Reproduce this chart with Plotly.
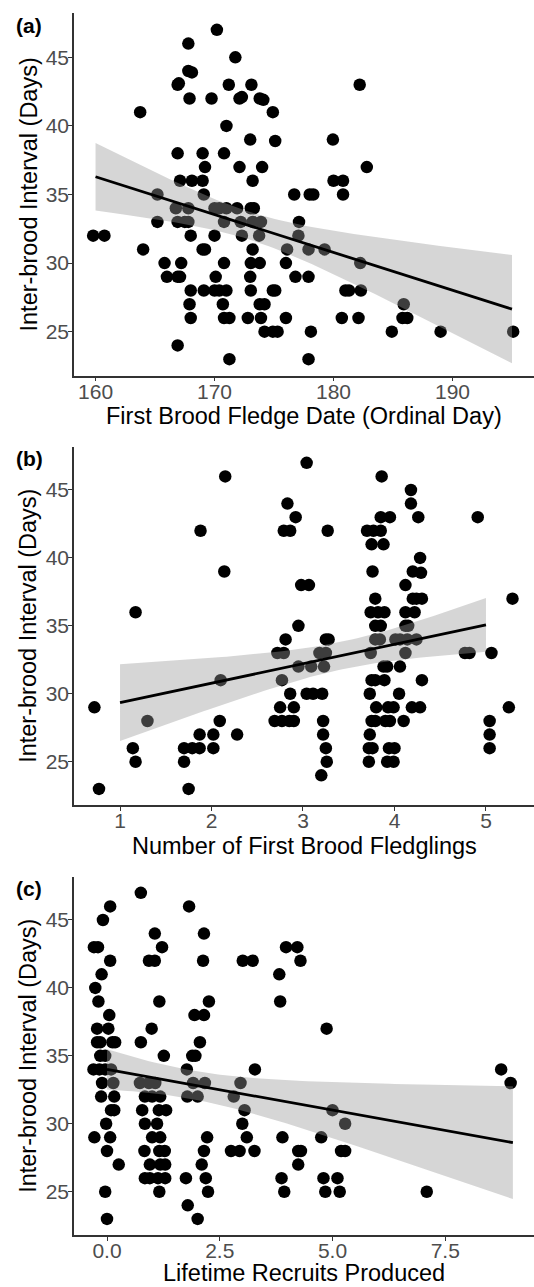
import numpy as np
import plotly.graph_objects as go

# ---------------- data ----------------
a_day = [170.2, 167.8, 171.75, 167.8, 168.1, 166.9, 167.0, 171.2, 173.1, 167.9,
         169.75, 172.1, 172.3, 173.8, 174.1, 163.75, 174.9, 171.0, 173.0, 175.1,
         166.9, 169.0, 170.8, 169.2, 172.1, 174.0, 167.1, 168.1, 169.0, 173.2,
         169.1, 165.2, 176.7, 166.75, 167.8, 170.0, 170.4, 171.0, 171.9, 173.05,
         173.3, 165.2, 166.9, 167.5, 167.8, 170.8, 172.2, 173.2, 173.9, 177.1,
         159.8, 160.75, 168.0, 170.0, 172.3, 173.75, 177.05, 164.0, 169.0, 169.2,
         173.2, 176.1, 165.8, 167.2, 170.8, 173.05, 173.8, 176.0, 176.8, 166.0,
         166.9, 167.1, 170.1, 173.0, 168.0, 169.1, 170.0, 170.4, 171.0, 173.05,
         174.9, 175.1, 167.9, 170.7, 173.8, 174.2, 168.0, 170.8, 171.25, 172.8,
         173.9, 176.0, 174.2, 174.9, 175.3, 166.9, 171.25,
         182.2, 179.95, 182.8, 180.0, 180.8, 180.8, 178.0, 178.3, 177.9, 179.25,
         182.25, 177.9, 181.0, 181.3, 182.3, 180.7, 182.1, 185.9, 185.8, 186.2,
         178.1, 184.9, 189.0, 195.1, 177.9]
a_interval = [47, 46, 45, 44, 43.9, 43, 43.1, 43, 43, 42,
              42, 42, 42.1, 42, 41.9, 41, 41, 40, 39, 38.9,
              38, 38, 38, 37, 37, 37, 36, 36, 36, 36,
              35, 35, 35, 34, 34, 34, 34, 34, 34, 34,
              34, 33, 33, 33, 33, 33, 33, 33, 33, 33,
              32, 32, 32, 32, 32, 32, 32, 31, 31, 31,
              31, 31, 30, 30, 30, 30, 30, 30, 29, 29,
              29, 29, 29, 29, 28, 28, 28, 28, 28, 28,
              28, 28, 27, 27, 27, 27, 26, 26, 26, 26,
              26, 26, 25, 25, 25, 24, 23,
              43, 39, 37, 36, 36, 35, 35, 35, 31, 31,
              30, 29, 28, 28, 28, 26, 26, 27, 26, 26,
              25, 25, 25, 25, 23]

b_fledglings = [2.15, 2.83, 2.92, 2.79, 2.86, 1.88, 2.14, 1.17, 2.81, 2.72,
                2.79, 2.10, 2.77, 0.72, 2.86, 2.75, 2.90, 1.30, 2.69, 2.77,
                2.85, 2.90, 2.09, 1.87, 2.02, 2.28, 1.14, 1.70, 1.79, 1.87,
                2.02, 1.17, 1.70, 0.77, 1.75,
                3.04, 3.86, 4.18, 4.18, 3.85, 3.95, 4.26, 4.91, 3.27, 3.70,
                3.77, 3.85, 3.75, 3.88, 4.28, 3.76, 4.20, 4.29, 2.98, 3.065,
                4.12, 3.79, 4.20, 4.24, 4.30, 5.29, 3.74, 3.82, 3.89, 4.12,
                4.22, 2.95, 3.79, 3.85, 4.12, 4.15, 3.25, 3.28, 3.79, 3.84,
                4.01, 4.06, 4.14, 4.24, 3.18, 3.25, 3.74, 4.12, 4.77, 4.82,
                5.06, 2.95, 3.09, 3.23, 3.88, 3.92, 4.06, 3.75, 3.79, 3.89,
                4.30, 3.04, 3.11, 3.21, 3.73, 4.05, 3.80, 3.93, 3.99, 4.19,
                4.28, 5.25, 3.22, 3.75, 3.79, 3.90, 3.95, 4.10, 5.04, 3.22,
                3.73, 5.04, 3.25, 3.72, 3.76, 3.94, 4.00, 5.04, 3.26, 3.72,
                3.92, 3.99, 3.20]
b_interval = [46, 44, 43, 42, 42, 42, 39, 36, 34, 33,
              33, 31, 31, 29, 30, 29, 29, 28, 28, 28,
              28, 28, 28, 27, 27, 27, 26, 26, 26, 26,
              26, 25, 25, 23, 23,
              47, 46, 45, 44, 43, 43, 43, 43, 42, 42,
              42, 42, 41, 41, 40, 39, 39, 38.9, 38, 38,
              38, 37, 37, 37, 37, 37, 36, 36, 36, 36,
              36, 35, 35, 35, 35, 35, 34, 34, 34, 34,
              34, 34, 34, 34, 33, 33, 33, 33, 33, 33,
              33, 32, 32, 32, 32, 32, 32, 31, 31, 31,
              31, 30, 30, 30, 30, 30, 29, 29, 29, 29,
              29, 29, 28, 28, 28, 28, 28, 28, 28, 27,
              27, 27, 26, 26, 26, 26, 26, 26, 25, 25,
              25, 25, 24]

c_recruits = [0.75, 0.07, -0.09, 1.82, 1.06, 2.15, -0.29, -0.20, 1.22, 0.93,
              1.06, 0.07, 2.13, 3.01, 3.23, -0.12, -0.26, -0.19, 1.16, 2.26,
              0.05, 1.94, 2.15, -0.22, 0.03, 0.99, -0.22, -0.15, 0.12, 0.18,
              0.75, 2.06, -0.15, -0.04, 1.26, 1.89, 1.96, -0.30, -0.17, -0.04,
              0.09, 1.77, 3.28, -0.11, 0.14, 0.73, 0.93, 1.07, 1.91, 2.17,
              2.96, -0.13, 0.16, 0.84, 1.00, 1.18, 1.78, 2.01, 2.81, 0.09,
              0.16, 0.78, 1.15, 1.31, 3.05, -0.02, 0.84, 1.11, 3.00, -0.28,
              0.07, 1.00, 1.18, 2.22, 3.10, 0.00, 0.83, 1.16, 1.28, 2.15,
              2.75, 2.94, 3.27, 0.26, 0.95, 1.18, 1.29, 2.10, 0.84, 0.95,
              1.13, 1.29, 1.75, 2.19, -0.04, 1.16, 2.24, 1.79, 0.00, 2.01,
              3.97, 4.22, 4.29, 3.82, 3.84, 4.87, 8.74, 8.95, 5.00, 5.28,
              4.75, 3.89, 4.24, 4.30, 5.19, 5.28, 4.24, 3.87, 4.80, 5.11,
              3.93, 4.84, 5.16, 7.09]
c_interval = [47, 46, 45, 46, 44, 44, 43, 43, 43, 42,
              42, 42, 42, 42, 42, 41, 40, 39, 39, 39,
              38, 38, 38, 37, 37, 37, 36, 36, 36, 36,
              36, 36, 35, 35, 35, 35, 35, 34, 34, 34,
              34, 34, 34, 33, 33, 33, 33, 33, 33, 33,
              33, 32, 32, 32, 32, 32, 32, 32, 32, 31,
              31, 31, 31, 31, 31, 30, 30, 30, 30, 29,
              29, 29, 29, 29, 29, 28, 28, 28, 28, 28,
              28, 28, 28, 27, 27, 27, 27, 27, 26, 26,
              26, 26, 26, 26, 25, 25, 25, 24, 23, 23,
              43, 43, 42, 41, 39, 37, 34, 33, 31, 30,
              29, 29, 28, 28, 28, 28, 27, 26, 26, 26,
              25, 25, 25, 25]

panel_labels = ["(a)", "(b)", "(c)"]
x_titles = ["First Brood Fledge Date (Ordinal Day)",
            "Number of First Brood Fledglings",
            "Lifetime Recruits Produced"]
y_title = "Inter-brood Interval (Days)"
y_ticks = [25, 30, 35, 40, 45]
x_ticks = [[160, 170, 180, 190], [1, 2, 3, 4, 5], [0, 2.5, 5, 7.5]]
x_ticktext = [["160", "170", "180", "190"], ["1", "2", "3", "4", "5"],
              ["0.0", "2.5", "5.0", "7.5"]]


# ---------------- linear fit with 95% CI (as geom_smooth(method="lm")) ----------------
def lm_band(x, y, npts=80):
    x = np.round(np.asarray(x, float))  # fit on un-jittered values
    y = np.asarray(y, float)
    n = len(x)
    b1, b0 = np.polyfit(x, y, 1)
    resid = y - (b0 + b1 * x)
    s = np.sqrt((resid ** 2).sum() / (n - 2))
    xm = x.mean()
    sxx = ((x - xm) ** 2).sum()
    xs = np.linspace(x.min(), x.max(), npts)
    fit = b0 + b1 * xs
    se = s * np.sqrt(1.0 / n + (xs - xm) ** 2 / sxx)
    t = 1.978
    return xs, fit, fit - t * se, fit + t * se


W, H = 534, 1287
FONT = "Liberation Sans, Arial, sans-serif"
TICK_GREY = "#4D4D4D"
AX = "#333333"

# pixel geometry of the three panels
left_px = 74
panels_y = [(13.4, 375.6), (446.5, 805.2), (876.5, 1235.2)]
xtitle_y = [416, 846, 1273]
x_ranges = [[158.19, 196.85], [0.497, 5.525], [-0.732, 9.468]]
y_range = [21.8, 48.2]

datasets = [(a_day, a_interval), (b_fledglings, b_interval), (c_recruits, c_interval)]

fig = go.Figure()
for i, (xv, yv) in enumerate(datasets):
    k = "" if i == 0 else str(i + 1)
    xa, ya = "x" + k, "y" + k
    fig.add_trace(go.Scatter(x=xv, y=yv, mode="markers", xaxis=xa, yaxis=ya,
                             marker=dict(color="black", size=12.5, line=dict(width=0)),
                             showlegend=False, hoverinfo="skip"))
    xs, fit, lo, hi = lm_band(xv, yv)
    fig.add_trace(go.Scatter(x=np.concatenate([xs, xs[::-1]]),
                             y=np.concatenate([hi, lo[::-1]]),
                             fill="toself", fillcolor="rgba(153,153,153,0.4)",
                             line=dict(width=0), mode="lines", xaxis=xa, yaxis=ya,
                             showlegend=False, hoverinfo="skip"))
    fig.add_trace(go.Scatter(x=xs, y=fit, mode="lines", xaxis=xa, yaxis=ya,
                             line=dict(color="black", width=2.8),
                             showlegend=False, hoverinfo="skip"))

    top, bot = panels_y[i]
    dom_y = [1 - bot / H, 1 - top / H]
    common = dict(showline=True, linecolor=AX, linewidth=1.6, ticks="outside",
                  ticklen=4, tickwidth=1.4, tickcolor=AX, showgrid=False,
                  zeroline=False, tickfont=dict(family=FONT, size=21, color=TICK_GREY))
    fig.layout["xaxis" + k] = dict(domain=[left_px / W, 1], range=x_ranges[i],
                                   anchor=ya, tickvals=x_ticks[i], ticktext=x_ticktext[i],
                                   ticklabelstandoff=-8, **common)
    fig.layout["yaxis" + k] = dict(domain=dom_y, range=y_range, anchor=xa,
                                   tickvals=y_ticks, ticklabelstandoff=-5, **common)
    # axis titles
    fig.add_annotation(text=x_titles[i], xref="paper", yref="paper",
                       x=(left_px + W) / 2 / W, y=1 - xtitle_y[i] / H,
                       xanchor="center", yanchor="middle", showarrow=False,
                       font=dict(family=FONT, size=23.5, color="black"))
    fig.add_annotation(text=y_title, xref="paper", yref="paper", textangle=-90,
                       x=28 / W, y=1 - (top + bot) / 2 / H,
                       xanchor="center", yanchor="middle", showarrow=False,
                       font=dict(family=FONT, size=23.5, color="black"))
    # panel tag
    fig.add_annotation(text="<b>" + panel_labels[i] + "</b>", xref="paper", yref="paper",
                       x=29 / W, y=1 - (top + 12) / H, xanchor="center", yanchor="middle",
                       showarrow=False, font=dict(family=FONT, size=21, color="black"))

fig.update_layout(width=W, height=H, margin=dict(l=0, r=0, t=0, b=0),
                  plot_bgcolor="white", paper_bgcolor="white",
                  font=dict(family=FONT))
fig.write_html("out.html", config={"displayModeBar": False},
               post_script="document.body.style.margin='0px';"
                           "document.body.style.overflow='hidden';")
